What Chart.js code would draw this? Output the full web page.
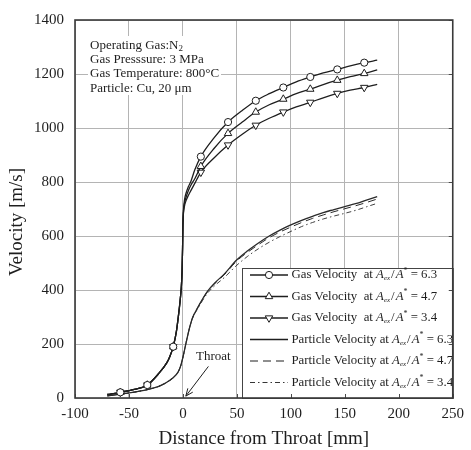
<!DOCTYPE html>
<html><head><meta charset="utf-8">
<script src="https://cdn.jsdelivr.net/npm/chart.js@4"></script>
<style>html,body{margin:0;padding:0;background:#fff;}#wrap{width:471px;height:450px;}</style>
</head><body><div id="wrap"><canvas id="c" width="471" height="450"></canvas></div>
<script>
// ---------------- data ----------------
const xTicks = [-100, -50, 0, 50, 100, 150, 200, 250];
const yTicks = [0, 200, 400, 600, 800, 1000, 1200, 1400];

const gasX  = [-70, -58, -45, -33, -23, -15, -12, -9, -6, -4, -2.5, -1.5, -0.8, -0.3, 0, 0.5, 1.5, 3, 5, 7.6, 11, 16.6, 29, 41.8, 55, 67.5, 80, 93, 105, 118, 130, 143, 155, 168, 180];
const gas63 = [13, 21, 32, 48, 88, 130, 155, 190, 248, 310, 365, 410, 470, 560, 640, 695, 735, 760, 782, 805, 845, 894, 964, 1022, 1065, 1101, 1127, 1150, 1171, 1189, 1204, 1217, 1230, 1242, 1251];
const gas47 = [13, 21, 32, 48, 88, 130, 155, 190, 248, 310, 365, 410, 470, 560, 640, 690, 722, 745, 768, 790, 812, 858, 925, 980, 1022, 1059, 1086, 1107, 1127, 1144, 1161, 1177, 1190, 1202, 1215];
const gas34 = [13, 21, 32, 48, 88, 130, 155, 190, 248, 310, 365, 410, 470, 560, 640, 685, 712, 732, 750, 770, 795, 836, 890, 937, 977, 1010, 1036, 1059, 1078, 1095, 1112, 1128, 1140, 1150, 1162];
const markerX = [-58, -33, -9, 16.6, 41.8, 67.5, 93, 118, 143, 168];

const partX  = [-70, -58, -45, -33, -23, -16.7, -10, -4.5, -2, 0, 3, 6, 9, 13.6, 18, 22.7, 30, 38, 50, 60, 70, 80, 90, 100, 110, 120, 130, 140, 150, 160, 170, 180];
const part63 = [8, 14, 22, 31, 42, 54, 72, 96, 120, 151, 206, 258, 298, 334, 365, 395, 428, 458, 512, 545, 574, 600, 622, 641, 658, 673, 687, 698, 709, 720, 733, 746];
const part47 = [8, 14, 22, 31, 42, 54, 72, 96, 120, 151, 206, 258, 298, 334, 365, 394, 426, 455, 508, 540, 568, 594, 615, 633, 650, 665, 678, 690, 701, 712, 724, 737];
const part34 = [8, 14, 22, 31, 42, 54, 72, 96, 120, 151, 206, 257, 296, 330, 360, 388, 418, 445, 492, 525, 553, 577, 598, 617, 635, 650, 663, 674, 684, 695, 708, 721];

const ratios = ['6.3', '4.7', '3.4'];
const legendPrefixes = ['Gas Velocity  at', 'Gas Velocity  at', 'Gas Velocity  at',
                        'Particle Velocity at', 'Particle Velocity at', 'Particle Velocity at'];
const infoLines = ['Operating Gas:N', 'Gas Presssure: 3 MPa', 'Gas Temperature: 800°C', 'Particle: Cu, 20 μm'];

// ---------------- styling ----------------
const FF = "'Liberation Serif','Times New Roman',serif";
const INK = '#1e1e1e';
const GRID = '#b4b4b4';

function pts(xs, ys) { return xs.map((x, i) => ({ x: x, y: ys[i] })); }
function markerRadius(xs, r) { return xs.map(x => markerX.includes(x) ? r : 0); }

const gasStyle = { borderColor: INK, borderWidth: 1.3, pointBackgroundColor: '#fff', pointBorderColor: INK,
  pointBorderWidth: 1, cubicInterpolationMode: 'monotone', fill: false, pointHoverRadius: 0 };
const partStyle = { borderColor: '#2a2a2a', pointRadius: 0, cubicInterpolationMode: 'monotone', fill: false };

const datasets = [
  Object.assign({ label: 'gas63', data: pts(gasX, gas63), pointStyle: 'circle', pointRadius: markerRadius(gasX, 3.6) }, gasStyle),
  Object.assign({ label: 'gas47', data: pts(gasX, gas47), pointStyle: 'triangle', pointRadius: markerRadius(gasX, 4.3) }, gasStyle),
  Object.assign({ label: 'gas34', data: pts(gasX, gas34), pointStyle: 'triangle', pointRotation: 180, pointRadius: markerRadius(gasX, 4.3) }, gasStyle),
  Object.assign({ label: 'part63', data: pts(partX, part63), borderWidth: 1.3 }, partStyle),
  Object.assign({ label: 'part47', data: pts(partX, part47), borderWidth: 1, borderDash: [8, 5] }, partStyle),
  Object.assign({ label: 'part34', data: pts(partX, part34), borderWidth: 0.9, borderDash: [5, 3, 1.5, 3] }, partStyle)
];

// ---------------- helpers ----------------
function drawMarker(ctx, type, x, y) {
  ctx.save();
  ctx.fillStyle = '#fff'; ctx.strokeStyle = INK; ctx.lineWidth = 1; ctx.setLineDash([]);
  ctx.beginPath();
  if (type === 'circle') {
    ctx.arc(x, y, 3.6, 0, Math.PI * 2);
  } else {
    const r = 4.3, s = type === 'up' ? 1 : -1;
    for (let k = 0; k < 3; k++) {
      const a = k * 2 * Math.PI / 3;
      const px = x + Math.sin(a) * r, py = y - s * Math.cos(a) * r;
      if (k === 0) ctx.moveTo(px, py); else ctx.lineTo(px, py);
    }
    ctx.closePath();
  }
  ctx.fill(); ctx.stroke();
  ctx.restore();
}

function drawRatio(ctx, x, y, value, fs) {
  ctx.textBaseline = 'middle'; ctx.textAlign = 'left';
  ctx.font = 'italic ' + fs + 'px ' + FF;
  ctx.fillText('A', x, y); x += ctx.measureText('A').width;
  ctx.font = 'italic ' + Math.round(fs * 0.58) + 'px ' + FF;
  ctx.fillText('ex', x, y + fs * 0.28); x += ctx.measureText('ex').width + 1;
  ctx.font = fs + 'px ' + FF;
  ctx.fillText('/', x, y); x += ctx.measureText('/').width + 1;
  ctx.font = 'italic ' + fs + 'px ' + FF;
  ctx.fillText('A', x, y); x += ctx.measureText('A').width;
  ctx.font = Math.round(fs * 0.6) + 'px ' + FF;
  ctx.fillText('*', x, y - fs * 0.32); x += ctx.measureText('*').width;
  ctx.font = fs + 'px ' + FF;
  ctx.fillText(' = ' + value, x, y);
}

const decor = {
  id: 'decor',
  afterDatasetsDraw(chart) {
    const ctx = chart.ctx, ca = chart.chartArea;
    const xs = chart.scales.x, ys = chart.scales.y;
    ctx.save();
    // info box (top-left)
    const bx = ca.left + 13, by = ca.top + 16;
    ctx.fillStyle = '#fff';
    ctx.fillRect(bx, by, 133, 59);
    ctx.fillStyle = INK; ctx.textBaseline = 'middle'; ctx.textAlign = 'left';
    const tx = bx + 2;
    infoLines.forEach((t, i) => {
      const ty = by + 9.5 + i * 14.2;
      ctx.font = '13px ' + FF;
      ctx.fillText(t, tx, ty);
      if (i === 0) {
        const w = ctx.measureText(t).width;
        ctx.font = '9px ' + FF;
        ctx.fillText('2', tx + w, ty + 3.5);
      }
    });

    // Throat annotation
    ctx.font = '13px ' + FF; ctx.textAlign = 'center'; ctx.textBaseline = 'alphabetic';
    ctx.fillText('Throat', xs.getPixelForValue(28.2), ys.getPixelForValue(139));
    const ax0 = xs.getPixelForValue(23.6), ay0 = ys.getPixelForValue(117);
    const ax1 = xs.getPixelForValue(2.7), ay1 = ys.getPixelForValue(7);
    ctx.strokeStyle = INK; ctx.lineWidth = 1; ctx.setLineDash([]);
    ctx.beginPath(); ctx.moveTo(ax0, ay0); ctx.lineTo(ax1, ay1); ctx.stroke();
    const ang = Math.atan2(ay1 - ay0, ax1 - ax0), hl = 8;
    ctx.beginPath();
    ctx.moveTo(ax1 - hl * Math.cos(ang - 0.4), ay1 - hl * Math.sin(ang - 0.4));
    ctx.lineTo(ax1, ay1);
    ctx.lineTo(ax1 - hl * Math.cos(ang + 0.4), ay1 - hl * Math.sin(ang + 0.4));
    ctx.stroke();

    // legend box
    const lx = ca.left + 167, ly = ca.top + 248;
    ctx.fillStyle = '#fff';
    ctx.fillRect(lx, ly, ca.right - lx, ca.bottom - ly);
    ctx.strokeStyle = '#444'; ctx.lineWidth = 1;
    ctx.strokeRect(lx + 0.5, ly + 0.5, ca.right - lx, ca.bottom - ly);
    const rowY = [275, 296.5, 318, 339.5, 361, 382.5];
    const markers = ['circle', 'up', 'down'];
    const dashes = [[], [8, 5], [5, 3, 1.5, 3]];
    rowY.forEach((y, i) => {
      ctx.strokeStyle = INK; ctx.lineWidth = i === 5 ? 0.9 : (i === 4 ? 1 : 1.3);
      ctx.setLineDash(i < 3 ? [] : dashes[i - 3]);
      ctx.beginPath(); ctx.moveTo(lx + 8, y); ctx.lineTo(lx + 46, y); ctx.stroke();
      ctx.setLineDash([]);
      if (i < 3) drawMarker(ctx, markers[i], lx + 27, y);
      ctx.fillStyle = INK; ctx.font = '12.8px ' + FF; ctx.textAlign = 'left'; ctx.textBaseline = 'middle';
      const pre = legendPrefixes[i] + ' ';
      ctx.fillText(pre, lx + 49.5, y);
      const w = ctx.measureText(pre).width;
      drawRatio(ctx, lx + 49.5 + w, y, ratios[i % 3], 12.8);
    });
    ctx.restore();
  },
  afterDraw(chart) {
    const ctx = chart.ctx, ca = chart.chartArea;
    const xs = chart.scales.x, ys = chart.scales.y;
    ctx.save();
    ctx.strokeStyle = '#4a4a4a'; ctx.lineWidth = 1;
    xTicks.forEach(v => {
      const p = Math.round(xs.getPixelForValue(v)) + 0.5;
      ctx.beginPath(); ctx.moveTo(p, ca.bottom); ctx.lineTo(p, ca.bottom - 4); ctx.stroke();
    });
    yTicks.forEach(v => {
      const p = Math.round(ys.getPixelForValue(v)) + 0.5;
      ctx.beginPath(); ctx.moveTo(ca.right, p); ctx.lineTo(ca.right - 4, p); ctx.stroke();
    });
    ctx.strokeStyle = '#3a3a3a'; ctx.lineWidth = 1.6;
    ctx.strokeRect(ca.left, ca.top, ca.right - ca.left, ca.bottom - ca.top);
    // y axis title
    ctx.fillStyle = INK; ctx.font = '19px ' + FF; ctx.textAlign = 'center'; ctx.textBaseline = 'middle';
    ctx.translate(17, 222); ctx.rotate(-Math.PI / 2);
    ctx.fillText('Velocity [m/s]', 0, 0);
    ctx.restore();
  }
};

new Chart(document.getElementById('c'), {
  type: 'line',
  data: { datasets: datasets },
  plugins: [decor],
  options: {
    responsive: false, animation: false, devicePixelRatio: 1,
    layout: { padding: { top: 14, right: 11, left: 0, bottom: 0 } },
    plugins: { legend: { display: false }, tooltip: { enabled: false } },
    elements: { line: { tension: 0 } },
    scales: {
      x: {
        type: 'linear', min: -100, max: 250,
        afterBuildTicks: s => { s.ticks = xTicks.map(v => ({ value: v })); },
        afterFit: s => { s.height = 52; },
        grid: { color: GRID, lineWidth: 1, drawTicks: false },
        border: { display: false },
        ticks: { font: { family: FF, size: 15 }, color: INK, padding: 7, maxRotation: 0, callback: v => String(v) },
        title: { display: true, text: 'Distance from Throat [mm]', font: { family: FF, size: 19 }, color: INK, padding: 0 }
      },
      y: {
        type: 'linear', min: 0, max: 1400,
        afterBuildTicks: s => { s.ticks = yTicks.map(v => ({ value: v })); },
        afterFit: s => { s.width = 75; },
        grid: { color: GRID, lineWidth: 1, drawTicks: false },
        border: { display: false },
        ticks: { font: { family: FF, size: 15 }, color: INK, padding: 11, callback: v => String(v) }
      }
    }
  }
});
</script>
</body></html>
